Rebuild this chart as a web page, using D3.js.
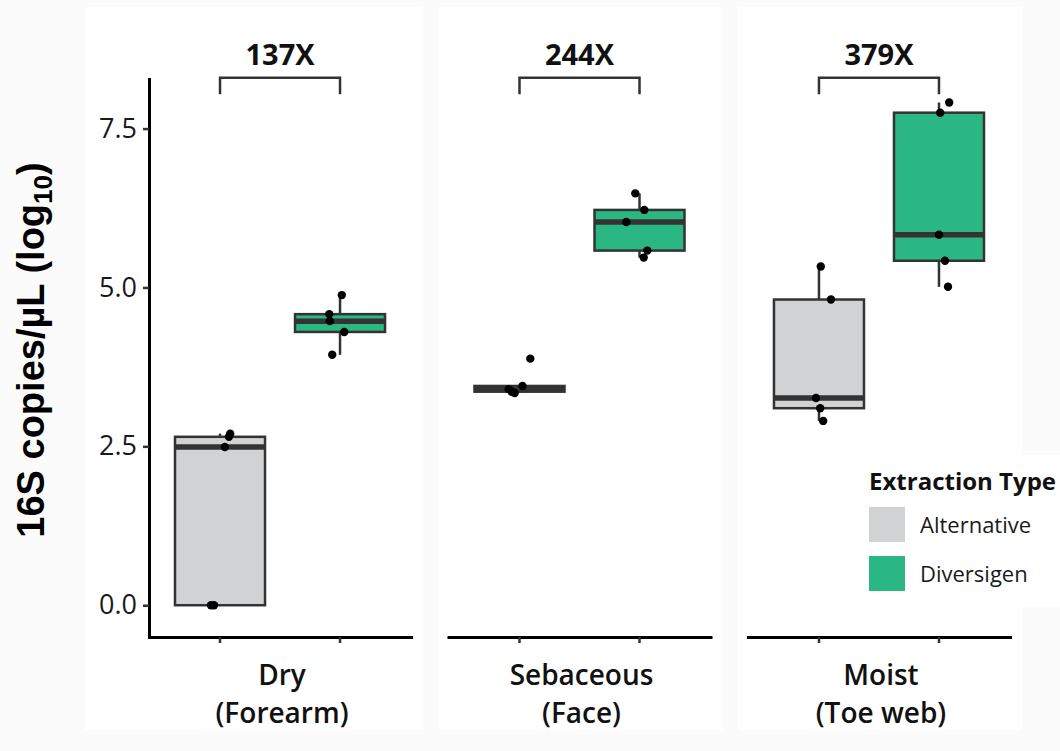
<!DOCTYPE html>
<html>
<head>
<meta charset="utf-8">
<script src="https://cdnjs.cloudflare.com/ajax/libs/d3/7.8.5/d3.min.js"></script>
<style>
  body { margin: 0; background: #fbfbfb; }
  svg { display: block; }
</style>
</head>
<body>
<svg id="chart" width="1060" height="751"></svg>
<script>
// categories
var sites = ["Dry", "Sebaceous", "Moist"];
var siteNames = ["(Forearm)", "(Face)", "(Toe web)"];
var types = ["Alternative", "Diversigen"];
var typeColors = ["#d1d2d4", "#2bb784"];
var foldChange = ["137X", "244X", "379X"];
var yTicks = [0, 2.5, 5, 7.5];

// 16S copies/uL (log10), one value per sample
var dryAlt = [0, 0, 2.49, 2.65, 2.70];
var dryDiv = [3.94, 4.30, 4.47, 4.58, 4.88];
var sebAlt = [3.34, 3.36, 3.40, 3.45, 3.88];
var sebDiv = [5.47, 5.58, 6.03, 6.22, 6.48];
var moistAlt = [2.90, 3.10, 3.26, 4.81, 5.33];
var moistDiv = [5.01, 5.42, 5.83, 7.75, 7.91];

// jitter of each point, in fractions of the box spacing
var dryAltJit = [-0.075, -0.05, 0.04, 0.075, 0.085];
var dryDivJit = [-0.065, 0.035, -0.085, -0.09, 0.015];
var sebAltJit = [-0.04, -0.065, -0.09, 0.025, 0.09];
var sebDivJit = [0.035, 0.065, -0.11, 0.04, -0.035];
var moistAltJit = [0.035, 0.01, -0.025, 0.1, 0.015];
var moistDivJit = [0.075, 0.05, 0, 0.01, 0.085];

var values = [[dryAlt, dryDiv], [sebAlt, sebDiv], [moistAlt, moistDiv]];
var jitters = [[dryAltJit, dryDivJit], [sebAltJit, sebDivJit], [moistAltJit, moistDivJit]];

var svg = d3.select("#chart");
var ink = "#333";

var y = d3.scaleLinear().domain([-0.5, 8.28]).range([637, 79]);
var facet = d3.scaleBand().domain(sites).range([149, 1010]).paddingInner(0.125);

function boxStats(v){
  var s = v.slice().sort(d3.ascending);
  var q1 = d3.quantile(s, 0.25), med = d3.quantile(s, 0.5), q3 = d3.quantile(s, 0.75);
  var iqr = q3 - q1;
  return {
    q1: q1, med: med, q3: q3,
    lo: d3.min(s.filter(function(d){ return d >= q1 - 1.5*iqr; })),
    hi: d3.max(s.filter(function(d){ return d <= q3 + 1.5*iqr; }))
  };
}

// faint panel backgrounds
sites.forEach(function(site, i){
  var x0 = facet(site);
  var left = i === 0 ? x0 - 64 : x0 - 10;
  svg.append("rect")
    .attr("x", left).attr("y", 7)
    .attr("width", x0 + facet.bandwidth() + 12 - left).attr("height", 723)
    .attr("fill", "#fff");
});

sites.forEach(function(site, i){
  var x0 = facet(site);
  var x = d3.scaleBand().domain(types)
    .range([x0, x0 + facet.bandwidth()])
    .paddingInner(0.25).paddingOuter(0.2167);
  var g = svg.append("g");

  // bottom axis
  var xAxis = g.append("g")
    .attr("transform", "translate(0," + y.range()[0] + ")")
    .call(d3.axisBottom(x).tickSize(6).tickSizeOuter(0).tickFormat(""));
  xAxis.select(".domain").attr("stroke", "#000").attr("stroke-width", 3).attr("stroke-linecap", "square");
  xAxis.selectAll(".tick line").attr("stroke", ink).attr("stroke-width", 2.5);

  if(i === 0){
    var yAxis = g.append("g")
      .attr("transform", "translate(" + x0 + ",0)")
      .call(d3.axisLeft(y).tickValues(yTicks).tickFormat(d3.format(".1f"))
        .tickSize(6).tickSizeOuter(0).tickPadding(6));
    yAxis.select(".domain").attr("stroke", "#000").attr("stroke-width", 3).attr("stroke-linecap", "square");
    yAxis.selectAll(".tick line").attr("stroke", ink).attr("stroke-width", 2.5);
    yAxis.selectAll(".tick text")
      .attr("fill", "#1a1a1a")
      .style("font-family", "'Open Sans', sans-serif")
      .style("font-size", "27px");
  }

  // boxes
  types.forEach(function(t, k){
    var st = boxStats(values[i][k]);
    var bx = x(t), bw = x.bandwidth(), cx = bx + bw/2;

    g.append("line")
      .attr("x1", cx).attr("x2", cx).attr("y1", y(st.hi)).attr("y2", y(st.q3))
      .attr("stroke", ink).attr("stroke-width", 2.5);
    g.append("line")
      .attr("x1", cx).attr("x2", cx).attr("y1", y(st.q1)).attr("y2", y(st.lo))
      .attr("stroke", ink).attr("stroke-width", 2.5);

    g.append("rect")
      .attr("x", bx).attr("y", y(st.q3))
      .attr("width", bw).attr("height", y(st.q1) - y(st.q3))
      .attr("fill", typeColors[k]).attr("stroke", ink).attr("stroke-width", 2.5);

    g.append("line")
      .attr("x1", bx).attr("x2", bx + bw).attr("y1", y(st.med)).attr("y2", y(st.med))
      .attr("stroke", ink).attr("stroke-width", 5.5);

    g.selectAll(null).data(values[i][k]).enter().append("circle")
      .attr("cx", function(d, n){ return cx + jitters[i][k][n] * x.step(); })
      .attr("cy", function(d){ return y(d); })
      .attr("r", 4.2)
      .attr("fill", "#000");
  });

  // fold-change bracket
  var xa = x(types[0]) + x.bandwidth()/2, xb = x(types[1]) + x.bandwidth()/2;
  g.append("path")
    .attr("d", "M" + xa + "," + y(8.04) + "V" + y(8.30) + "H" + xb + "V" + y(8.04))
    .attr("fill", "none").attr("stroke", ink).attr("stroke-width", 2.5);
  g.append("text")
    .attr("x", (xa + xb)/2).attr("y", y(8.30) - 13)
    .attr("text-anchor", "middle")
    .style("font-family", "'Open Sans', sans-serif")
    .style("font-weight", 700).style("font-size", "29px")
    .attr("fill", "#111")
    .text(foldChange[i]);

  // facet labels
  var cxl = x0 + facet.bandwidth()/2 + 2;
  g.append("text")
    .attr("x", cxl).attr("y", 685)
    .attr("text-anchor", "middle")
    .style("font-family", "'Open Sans', sans-serif")
    .style("font-weight", 600).style("font-size", "28px")
    .attr("fill", "#111")
    .text(site);
  g.append("text")
    .attr("x", cxl).attr("y", 723)
    .attr("text-anchor", "middle")
    .style("font-family", "'Open Sans', sans-serif")
    .style("font-weight", 600).style("font-size", "28px")
    .attr("fill", "#111")
    .text(siteNames[i]);
});

// y title
var yt = svg.append("text")
  .attr("transform", "translate(44,350) rotate(-90)")
  .attr("text-anchor", "middle")
  .style("font-family", "'Liberation Sans', Arial, sans-serif")
  .style("font-weight", 700).style("font-size", "38px")
  .attr("fill", "#000");
yt.append("tspan").text("16S copies/\u00b5L (log");
yt.append("tspan").attr("dy", 8).style("font-size", "26px").text("10");
yt.append("tspan").attr("dy", -8).text(")");

// legend
var lg = svg.append("g");
lg.append("rect").attr("x", 850).attr("y", 455).attr("width", 210).attr("height", 152).attr("fill", "#fff");
lg.append("text")
  .attr("x", 869).attr("y", 490)
  .style("font-family", "'Open Sans', sans-serif")
  .style("font-weight", 700).style("font-size", "24px")
  .attr("fill", "#111")
  .text("Extraction Type");
types.forEach(function(t, k){
  lg.append("rect")
    .attr("x", 869).attr("y", 507 + k*49)
    .attr("width", 36).attr("height", 35)
    .attr("fill", typeColors[k]);
  lg.append("text")
    .attr("x", 920).attr("y", 533 + k*49)
    .style("font-family", "'Open Sans', sans-serif")
    .style("font-size", "22px")
    .attr("fill", "#1a1a1a")
    .text(t);
});
</script>
</body>
</html>
